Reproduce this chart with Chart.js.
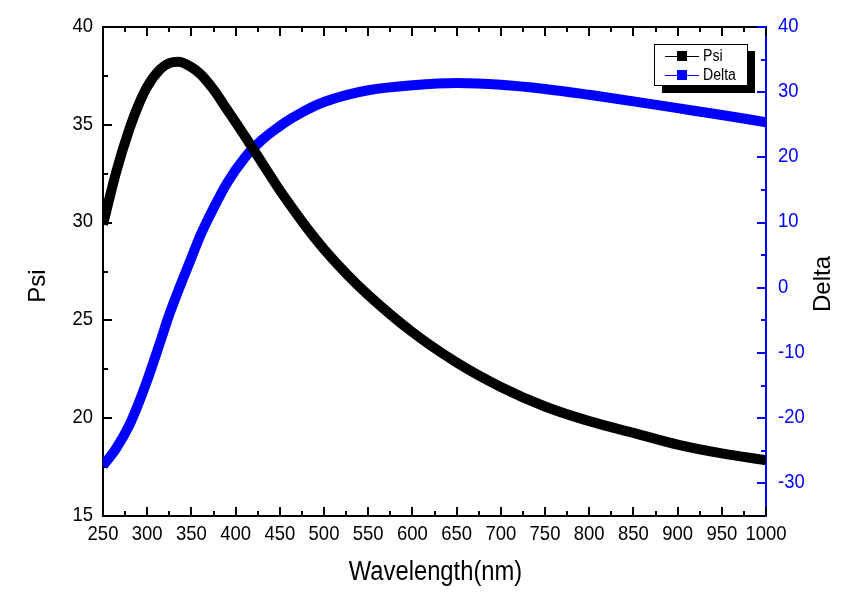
<!DOCTYPE html>
<html>
<head>
<meta charset="utf-8">
<script src="https://cdn.jsdelivr.net/npm/chart.js@4"></script>
<style>
  html, body { margin: 0; padding: 0; background: #fff; }
  #wrap { width: 868px; height: 604px; }
</style>
</head>
<body>
<div id="wrap"><canvas id="psi-delta-chart" width="868" height="604"></canvas></div>
<script>
// ellipsometry spectrum, values
const wavelengths = [250, 265, 280, 290, 300, 315, 325, 335, 350, 360, 375, 390, 410, 430, 450, 462, 475, 487, 500, 525, 550, 600, 650, 700, 750, 800, 850, 900, 950, 1000];
const psiValues   = [29.9, 32.6, 34.8, 36.0, 36.95, 37.85, 38.15, 38.22, 37.95, 37.6, 36.8, 35.8, 34.45, 33.05, 31.65, 30.88, 30.07, 29.36, 28.64, 27.4, 26.3, 24.4, 22.85, 21.6, 20.6, 19.85, 19.25, 18.65, 18.2, 17.85];
const deltaValues = [-27.3, -24.6, -21.0, -17.8, -14.2, -8.2, -4.1, -0.5, 4.6, 8.0, 12.2, 16.0, 19.9, 22.7, 24.8, 25.9, 26.9, 27.75, 28.5, 29.55, 30.3, 31.05, 31.4, 31.15, 30.5, 29.6, 28.6, 27.55, 26.5, 25.4];

const wavelengthTicks = [250, 300, 350, 400, 450, 500, 550, 600, 650, 700, 750, 800, 850, 900, 950, 1000];
const psiTicks = [15, 20, 25, 30, 35, 40];
const deltaTicks = [-30, -20, -10, 0, 10, 20, 30, 40];

const BLUE = '#0000ff';
const FONT = "'Liberation Sans', Arial, sans-serif";
const SQUEEZE = 0.88; // the original lettering is a bit condensed

function toPoints(ys) {
  return wavelengths.map((w, i) => ({ x: w, y: ys[i] }));
}
function fixedTicks(list) {
  return scale => { scale.ticks = list.map(v => ({ value: v })); };
}
function midpoints(list) {
  const out = [];
  for (let i = 1; i < list.length; i++) out.push((list[i - 1] + list[i]) / 2);
  return out;
}
function squeezedText(ctx, text, x, y, align, baseline) {
  ctx.save();
  ctx.translate(x, y);
  ctx.scale(SQUEEZE, 1);
  ctx.textAlign = align;
  ctx.textBaseline = baseline;
  ctx.fillText(text, 0, 0);
  ctx.restore();
}

// inward tick marks, top frame line and tick labels, Origin style
const frameTicks = {
  id: 'frameTicks',
  beforeDatasetsDraw(chart) {
    const { ctx, chartArea: a, scales } = chart;
    const xs = scales.x, yl = scales.yPsi, yr = scales.yDelta;
    ctx.save();
    ctx.lineWidth = 2;
    ctx.strokeStyle = '#000';
    ctx.beginPath();
    ctx.moveTo(a.left - 1, a.top);
    ctx.lineTo(a.right, a.top);
    ctx.stroke();

    [[wavelengthTicks, 9], [midpoints(wavelengthTicks), 5]].forEach(([vals, len]) => {
      vals.forEach(v => {
        const px = Math.round(xs.getPixelForValue(v));
        ctx.beginPath();
        ctx.moveTo(px, a.bottom); ctx.lineTo(px, a.bottom - len);
        ctx.moveTo(px, a.top); ctx.lineTo(px, a.top + len);
        ctx.stroke();
      });
    });

    [[psiTicks, 9], [midpoints(psiTicks), 5]].forEach(([vals, len]) => {
      vals.forEach(v => {
        const py = Math.round(yl.getPixelForValue(v));
        ctx.beginPath();
        ctx.moveTo(a.left, py); ctx.lineTo(a.left + len, py);
        ctx.stroke();
      });
    });

    ctx.strokeStyle = BLUE;
    [[deltaTicks, 9], [midpoints(deltaTicks), 5]].forEach(([vals, len]) => {
      vals.forEach(v => {
        const py = Math.round(yr.getPixelForValue(v));
        ctx.beginPath();
        ctx.moveTo(a.right, py); ctx.lineTo(a.right - len, py);
        ctx.stroke();
      });
    });

    ctx.font = '21px ' + FONT;
    ctx.fillStyle = '#000';
    wavelengthTicks.forEach(v => squeezedText(ctx, String(v), xs.getPixelForValue(v), a.bottom + 18.5, 'center', 'middle'));
    psiTicks.forEach(v => squeezedText(ctx, String(v), a.left - 10, yl.getPixelForValue(v) - 1, 'right', 'middle'));
    ctx.fillStyle = BLUE;
    deltaTicks.forEach(v => squeezedText(ctx, String(v), a.right + 12, yr.getPixelForValue(v) - 1, 'left', 'middle'));
    ctx.restore();
  }
};

// axis titles (Delta reads bottom-to-top like Psi) and the shadowed legend
const titlesAndLegend = {
  id: 'titlesAndLegend',
  afterDraw(chart) {
    const { ctx, chartArea: a } = chart;
    ctx.save();
    ctx.fillStyle = '#000';

    ctx.font = '27px ' + FONT;
    squeezedText(ctx, 'Wavelength(nm)', (a.left + a.right) / 2 + 1, 580, 'center', 'alphabetic');

    ctx.font = '24px ' + FONT;
    ctx.textAlign = 'center';
    ctx.textBaseline = 'middle';
    [['Psi', 38, 286], ['Delta', 823, 284]].forEach(([txt, x, y]) => {
      ctx.save();
      ctx.translate(x, y);
      ctx.rotate(-Math.PI / 2);
      ctx.fillText(txt, 0, 0);
      ctx.restore();
    });

    // legend
    const lx = a.right - 112, ly = a.top + 17, lw = 93, lh = 41;
    ctx.fillStyle = '#000';
    ctx.fillRect(lx + 8, ly + 7, lw, lh + 1);
    ctx.fillStyle = '#fff';
    ctx.fillRect(lx, ly, lw, lh);
    ctx.lineWidth = 1;
    ctx.strokeStyle = '#000';
    ctx.strokeRect(lx + 0.5, ly + 0.5, lw, lh);

    ctx.font = '16px ' + FONT;
    chart.data.datasets.forEach((ds, i) => {
      const cy = Math.round(ly + 12 + i * 19);
      ctx.strokeStyle = ds.borderColor;
      ctx.beginPath();
      ctx.moveTo(lx + 11, cy + 0.5); ctx.lineTo(lx + 45, cy + 0.5);
      ctx.stroke();
      ctx.fillStyle = ds.borderColor;
      ctx.fillRect(lx + 23, cy - 5, 10, 10);
      ctx.fillStyle = '#000';
      squeezedText(ctx, ds.label, lx + 49, cy + 1, 'left', 'middle');
    });
    ctx.restore();
  }
};

new Chart(document.getElementById('psi-delta-chart'), {
  type: 'line',
  data: {
    datasets: [
      {
        label: 'Psi',
        data: toPoints(psiValues),
        yAxisID: 'yPsi',
        borderColor: '#000',
        backgroundColor: '#000',
        borderWidth: 10,
        pointRadius: 0,
        cubicInterpolationMode: 'monotone',
        clip: 0
      },
      {
        label: 'Delta',
        data: toPoints(deltaValues),
        yAxisID: 'yDelta',
        borderColor: BLUE,
        backgroundColor: BLUE,
        borderWidth: 10,
        pointRadius: 0,
        cubicInterpolationMode: 'monotone',
        clip: 0
      }
    ]
  },
  options: {
    responsive: false,
    animation: false,
    layout: { padding: { top: 27, left: 0, right: 0, bottom: 0 } },
    plugins: {
      legend: { display: false },
      tooltip: { enabled: false }
    },
    scales: {
      x: {
        type: 'linear',
        position: 'bottom',
        min: 250,
        max: 1000,
        afterBuildTicks: fixedTicks(wavelengthTicks),
        afterFit: s => { s.height = 88; },
        ticks: { display: false },
        grid: { drawOnChartArea: false, drawTicks: false },
        border: { color: '#000', width: 2 }
      },
      yPsi: {
        type: 'linear',
        position: 'left',
        min: 15,
        max: 40,
        afterBuildTicks: fixedTicks(psiTicks),
        afterFit: s => { s.width = 103; },
        ticks: { display: false },
        grid: { drawOnChartArea: false, drawTicks: false },
        border: { color: '#000', width: 2 }
      },
      yDelta: {
        type: 'linear',
        position: 'right',
        min: -35,
        max: 40,
        afterBuildTicks: fixedTicks(deltaTicks),
        afterFit: s => { s.width = 102; },
        ticks: { display: false },
        grid: { drawOnChartArea: false, drawTicks: false },
        border: { color: BLUE, width: 2 }
      }
    }
  },
  plugins: [frameTicks, titlesAndLegend]
});
</script>
</body>
</html>
